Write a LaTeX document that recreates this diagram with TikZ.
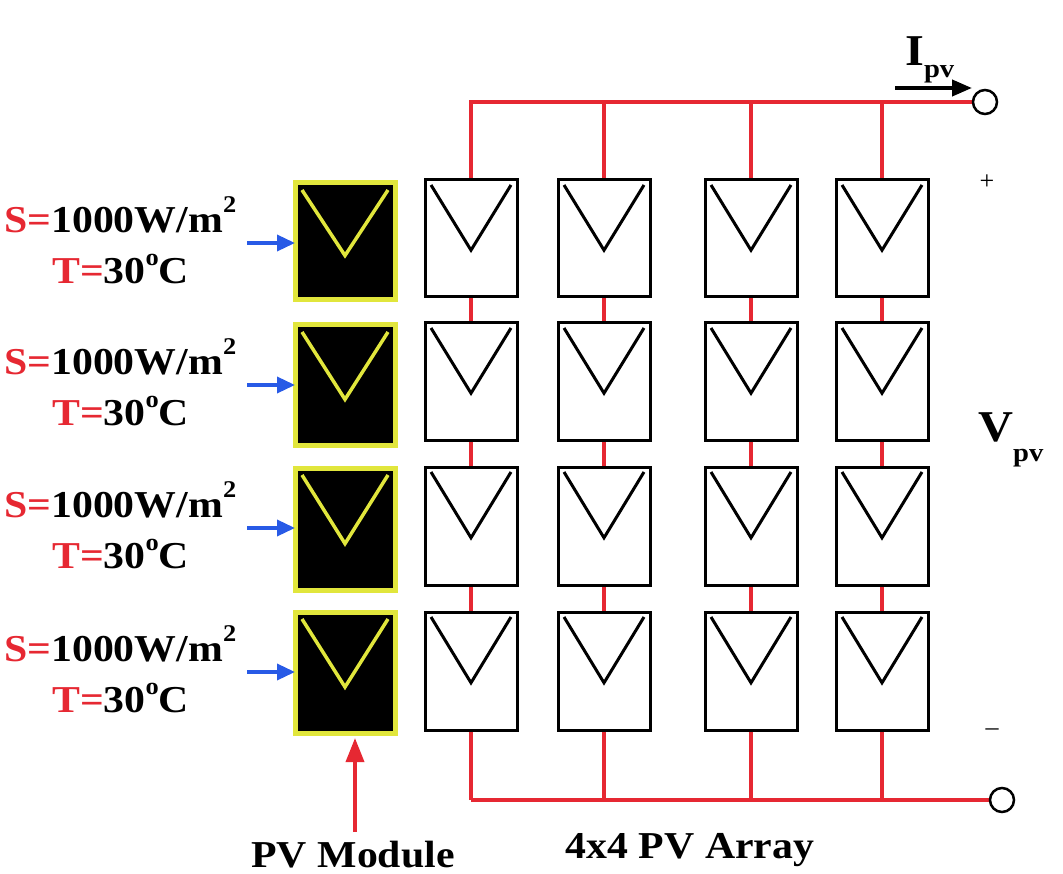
\documentclass[tikz,border=0pt]{standalone}
\usepackage{fontspec}
\setmainfont{Liberation Serif}
\usetikzlibrary{arrows.meta,calc}
\definecolor{wr}{RGB}{230,40,50}
\definecolor{yl}{RGB}{225,230,60}
\definecolor{bl}{RGB}{40,90,230}
\begin{document}
\begin{tikzpicture}[x=1pt,y=-1pt,
  wire/.style={wr,line width=3.5pt},
  cellbox/.style={draw=black,line width=3pt,fill=white},
  modbox/.style={draw=yl,line width=5pt,fill=black},
  lbl/.style={font=\bfseries\fontsize{38}{38}\selectfont,inner sep=0pt,xscale=1.1}]
\useasboundingbox (0,0) rectangle (1063,874);
% buses
\draw[wire] (471,800) -- (471,102) coordinate (t1) -- (975,102);
\draw[wire] (471,800) -- (990,800);
\foreach \x in {604,751,882}{\draw[wire] (\x,102) -- (\x,800);}
\node[circle,draw,line width=2.5pt,minimum size=24pt,inner sep=0pt,fill=white] (tp) at (985,102) {};
\node[circle,draw,line width=2.5pt,minimum size=24pt,inner sep=0pt,fill=white] (tn) at (1002,800) {};
% array cells
\foreach \cx in {425,558,705,836}{
 \foreach \ty/\by in {180/297,323/440,467/585,612/730}{
  \draw[cellbox] (\cx,\ty) rectangle ({\cx+92},\by);
  \draw[line width=3pt] ({\cx+6},{\ty+5}) -- ({\cx+46},{\ty+0.6*(\by-\ty)}) -- ({\cx+86},{\ty+5});
 }}
% modules + labels
\foreach \ty/\by/\i in {183/300/1,325/445/2,468/590/3,612/733/4}{
  \draw[modbox] (295,\ty) rectangle (395,\by);
  \draw[yl,line width=3.5pt] (302,{\ty+7}) -- (345,{\ty+0.62*(\by-\ty)}) -- (388,{\ty+7});
  \node[lbl,anchor=west] (s\i) at (4,{\ty+32}) {\textcolor{wr}{S=}1000W/m\raisebox{20pt}{\fontsize{24}{24}\selectfont 2}};
  \node[lbl,anchor=west] (tt\i) at (52,{\ty+86}) {\textcolor{wr}{T=}30\raisebox{18pt}{\fontsize{24}{24}\selectfont o}C};
  \coordinate (m\i) at (295,{\ty+60});
  \draw[bl,line width=3.5pt,-{Triangle[length=18pt,width=16pt]}] ($(m\i)+(-48,0)$) -- (m\i);
}
\node[lbl] (pvm) at (353,855) {PV Module};
\node[lbl] (arr) at (690,850) {4x4 PV Array};
\coordinate (mb) at (355,738);
\draw[wr,line width=3.5pt,-{Triangle[length=24pt,width=18pt]}] (355,832) -- (mb);
\node[lbl,anchor=west] (ipv) at (905,60) {\fontsize{44}{44}\selectfont I\raisebox{-12pt}{\fontsize{26}{26}\selectfont pv}};
\draw[line width=4pt,-{Triangle[length=20pt,width=16pt]}] (895,88) -- (972,88);
\node[font=\fontsize{26}{26}\selectfont] (plus) at (987,182) {+};
\node[font=\fontsize{26}{26}\selectfont] (minus) at (992,732) {--};
\node[lbl,anchor=west] (vpv) at (978,440) {\fontsize{44}{44}\selectfont V\raisebox{-20pt}{\fontsize{26}{26}\selectfont pv}};
\end{tikzpicture}
\end{document}
